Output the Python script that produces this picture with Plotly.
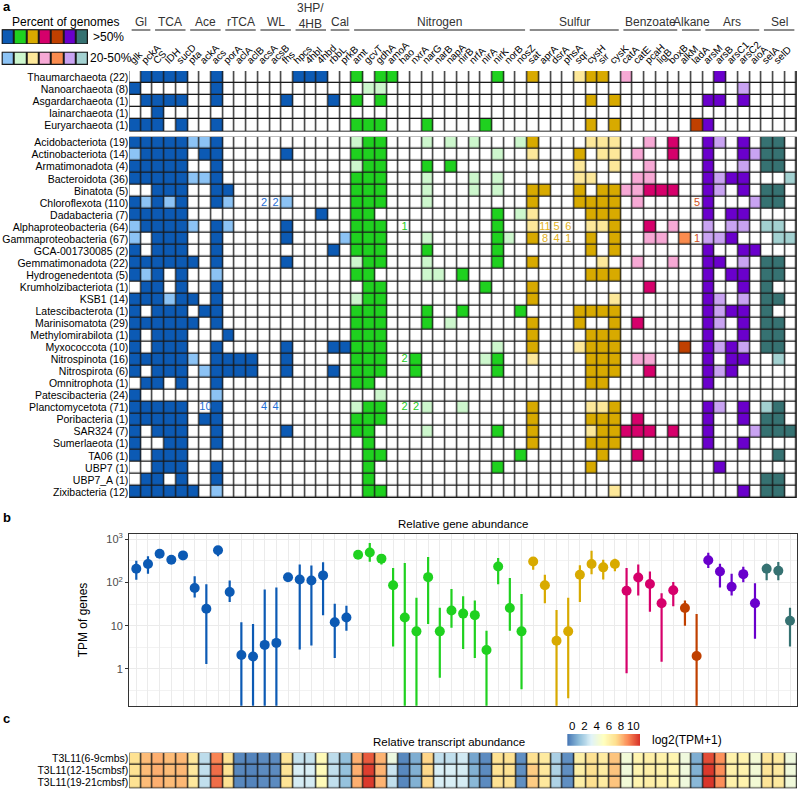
import numpy as np
import plotly.graph_objects as go

W, H = 800, 790
FONT = "Liberation Sans, Arial, sans-serif"

# ---- panel a: gene presence per phylum -------------------------------------
GROUPS = ["Gl", "TCA", "Ace", "rTCA", "WL", "3HP/<br>4HB", "Cal",
          "Nitrogen", "Sulfur", "Benzoate", "Alkane", "Ars", "Sel"]
GROUP_SIZES = [2, 3, 3, 3, 3, 3, 2, 15, 8, 5, 2, 5, 3]
GROUP_FAMILY = [0, 0, 0, 0, 0, 0, 0, 1, 2, 3, 4, 5, 6]

GENES = ["glk", "pckA", "CS", "IDH", "sucD", "pta", "ackA", "acs", "porA", "aclA",
         "aclB", "acsA", "acsB", "fhs", "hpcs", "4hbl", "4hbd", "rbbL", "prkB",
         "amt", "gcvT", "gdhA", "amoA", "hao", "nxrA", "narG", "narB", "napA", "nirB",
         "nrfA", "nirA", "nirK", "norB", "nosZ",
         "sat", "aprA", "dsrA", "phsA", "sqr", "cysH", "sir", "cysK",
         "catA", "catE", "pcaH", "ligB", "boxB", "alkM", "ladA",
         "arsM", "arsB", "arsC1", "arsC2", "aioA", "selA", "selD", "selU"]

DARK = ["#0c5ab4", "#1fd11f", "#d8aa00", "#d6006b", "#c04000", "#6a00cc", "#367272"]
LIGHT = ["#8cc3f5", "#cdf7cd", "#fde89a", "#f7a9d5", "#fa8c4f", "#c9a3f2", "#a3d1d1"]

# 0 = <20 %, 1 = 20-50 %, 2 = >50 % of genomes
ARCHAEA = ["Thaumarchaeota (22)", "Nanoarchaeota (8)", "Asgardarchaeota (1)",
           "Iainarchaeota (1)", "Euryarchaeota (1)"]
ARCHAEA_PATTERN = [
    "02 222 002 000 000 222 00|202200000000200|20001220|10000|00|02000|000",
    "20 000 002 000 000 000 00|011000000000000|00000000|00000|00|00010|000",
    "02 222 002 000 002 000 20|202000000000000|00000202|00000|00|22020|000",
    "00 200 000 000 000 000 00|000000000000000|00000000|00000|00|00000|000",
    "22 202 002 000 000 000 00|222000200002000|00000202|00000|02|20000|000",
]
BACTERIA = ["Acidobacteriota (19)", "Actinobacteriota (14)", "Armatimonadota (4)",
            "Bacteroidota (36)", "Binatota (5)", "Chloroflexota (110)", "Dadabacteria (7)",
            "Alphaproteobacteria (64)", "Gammaproteobacteria (67)", "GCA-001730085 (2)",
            "Gemmatimonadota (22)", "Hydrogenedentota (5)", "Krumholzibacteriota (1)",
            "KSB1 (14)", "Latescibacterota (1)", "Marinisomatota (29)",
            "Methylomirabilota (1)", "Myxococcota (10)", "Nitrospinota (16)",
            "Nitrospirota (6)", "Omnitrophota (1)", "Patescibacteria (24)",
            "Planctomycetota (71)", "Poribacteria (1)", "SAR324 (7)", "Sumerlaeota (1)",
            "TA06 (1)", "UBP7 (1)", "UBP7_A (1)", "Zixibacteria (12)"]
BACTERIA_PATTERN = [
    "22 222 112 000 000 000 00|122000101010001|20000111|00102|00|21020|220",
    "12 222 022 000 002 000 00|222000000000100|10002011|01002|00|20021|220",
    "22 222 002 000 000 000 00|122000202000000|00001001|00100|00|20010|220",
    "22 222 112 000 000 000 00|222000100010100|00001100|01100|00|21220|001",
    "00 222 002 200 000 000 00|222000100010100|22002022|11222|00|21020|220",
    "21 212 002 100 001 000 00|222000100000000|20002222|01000|00|20001|220",
    "22 222 000 000 000 002 00|220000000000201|10000222|00000|00|20220|000",
    "12 222 102 100 002 000 00|222000000000200|10000112|00201|00|10110|110",
    "10 222 002 000 002 000 01|222000100000210|20000202|00110|10|11200|011",
    "20 222 002 000 000 000 20|222000200000200|00000202|00000|00|20022|000",
    "22 222 202 000 002 000 00|122000100000200|20000010|01001|00|22010|220",
    "21 202 001 000 000 000 00|220000110200000|00000222|00000|00|20220|220",
    "02 202 002 000 000 000 00|022000000002000|20000000|00200|00|20020|200",
    "22 212 202 000 000 000 00|122000000000000|20000001|00000|00|21010|220",
    "20 222 022 000 000 000 00|222000200200002|00002222|00000|00|21220|200",
    "22 222 202 000 000 000 00|222000201000000|20002002|02000|00|21020|220",
    "20 222 000 200 000 000 00|222000000000000|20000222|00000|00|20020|220",
    "20 222 002 000 002 000 22|222000000000100|20001222|00000|20|21210|220",
    "22 222 102 222 002 000 00|222002000001200|10000222|01100|00|20220|010",
    "20 222 012 222 002 000 20|222002000000200|00000222|00200|00|21200|000",
    "02 202 002 000 000 000 00|220000000000000|00000220|00000|00|20000|000",
    "20 000 001 000 000 000 00|001000000000000|00000000|00000|00|00000|000",
    "22 222 002 000 000 000 00|122000100100000|20000112|00000|00|21020|120",
    "22 222 022 000 000 000 00|222000000000000|20000222|02000|00|20020|220",
    "20 222 002 000 002 000 00|220000100000200|20000122|22202|00|20001|222",
    "20 022 002 000 000 000 00|020000000000000|20000222|00000|00|20020|000",
    "20 222 000 000 000 000 00|022000000000002|00000020|02000|00|00000|020",
    "00 222 002 000 000 000 00|020000000000200|00000200|00000|00|02000|000",
    "02 202 002 000 000 000 00|020000000000000|00000000|00000|00|00000|220",
    "22 222 201 000 000 000 00|022000000000000|00000001|00000|00|00020|220",
]
# genome counts written in cells
CELL_NUMBERS = [
    ("Chloroflexota (110)", "acsA", "2"), ("Chloroflexota (110)", "acsB", "2"),
    ("Chloroflexota (110)", "ladA", "5"),
    ("Alphaproteobacteria (64)", "hao", "1"), ("Alphaproteobacteria (64)", "aprA", "11"),
    ("Alphaproteobacteria (64)", "dsrA", "5"), ("Alphaproteobacteria (64)", "phsA", "6"),
    ("Gammaproteobacteria (67)", "aprA", "8"), ("Gammaproteobacteria (67)", "dsrA", "4"),
    ("Gammaproteobacteria (67)", "phsA", "1"), ("Gammaproteobacteria (67)", "ladA", "1"),
    ("Nitrospinota (16)", "hao", "2"),
    ("Planctomycetota (71)", "ackA", "10"), ("Planctomycetota (71)", "acsA", "4"),
    ("Planctomycetota (71)", "acsB", "4"), ("Planctomycetota (71)", "hao", "2"),
    ("Planctomycetota (71)", "nxrA", "2"),
]

# ---- panel b: relative gene abundance (TPM) ---------------------------------
TPM_MID = [207, 265, 458, 334, 420, 74, 24.6, 550, 60, 2.1, 1.95, 3.6, 4.0, 131, 116, 110, 145, 12, 15.5,
           435, 490, 353, 86, 15.5, 7.4, 132, 7.4, 22.4, 19, 17.5, 2.75, 233, 25.5, 7.4,
           303, 86, 4.5, 7.4, 150, 265, 222, 265,
           64, 130, 92, 33, 66,
           25.5, 2.0,
           325, 178, 79, 155, 33,
           207, 186, 13]
TPM_LOW = [115, 158, 400, 280, 370, 45, 1.3, 400, 35, 0.1, 0.1, 0.1, 0.1, 115, 2.8, 3.5, 17.5, 1.8, 7.6,
           390, 300, 260, 3.3, 0.1, 0.1, 11, 0.63, 9, 2.9, 1.8, 0.1, 91, 7.6, 0.34,
           196, 33, 0.1, 0.21, 35, 155, 116, 180,
           0.8, 50, 21, 1.47, 28,
           10, 0.1,
           215, 76, 50, 100, 5,
           112, 112, 3.3]
TPM_HIGH = [316, 400, 520, 400, 480, 138, 91, 680, 110, 12, 11, 68, 76, 150, 257, 245, 290, 32, 29,
            480, 810, 420, 215, 280, 44, 383, 26, 70, 48, 38, 7.6, 365, 126, 54,
            380, 150, 23, 44, 247, 540, 333, 350,
            215, 257, 178, 56, 102,
            38, 18.6,
            480, 270, 158, 230, 96,
            270, 294, 26]

# ---- panel c: relative transcript abundance log2(TPM+1) ---------------------
SAMPLES = ["T3L11(6-9cmbs)", "T3L11(12-15cmbsf)", "T3L11(19-21cmbsf)"]
TX_6_9 = [7.0, 8.0, 8.3, 8.0, 8.1, 6.7, 2.3, 9.3, 7.0, -0.3, -0.4, -0.2, -0.2, 6.9, 2.5, 2.5, 5.5, 2.3, 1.2,
          8.3, 10.2, 8.2, 4.0, -0.3, 0.7, 7.4, 2.4, 2.4, 2.8, 0.5, -0.2, 7.0, 7.0, -0.1,
          7.1, 6.5, 1.8, -0.1, 6.2, 7.0, 6.4, 7.8,
          4.3, 5.8, 6.1, 6.0, 5.8, 4.1, 0.7,
          10.5, 9.0, 6.0, 5.9, 4.4, 6.8, 6.5, 4.1]
TX_12_15 = [7.0, 8.0, 8.3, 8.0, 8.1, 6.6, 2.4, 9.8, 7.0, -0.3, -0.4, -0.2, -0.2, 6.9, 3.0, 3.0, 5.4, 2.4, 1.3,
            8.3, 10.8, 8.2, 2.6, -0.3, 0.8, 7.3, 3.0, 3.0, 2.9, 0.8, -0.2, 7.0, 7.0, -0.1,
            7.6, 6.6, 1.9, -0.1, 6.2, 7.1, 6.4, 7.8,
            4.2, 5.8, 6.1, 6.0, 5.8, 4.1, 0.8,
            10.9, 9.1, 6.0, 5.9, 4.4, 6.8, 6.5, 4.2]
TX_19_21 = [7.0, 8.0, 8.3, 8.0, 8.1, 6.6, 2.4, 9.8, 7.0, -0.3, -0.4, -0.2, -0.2, 6.9, 2.9, 2.9, 5.4, 2.4, 1.3,
            8.3, 10.9, 8.2, 2.4, -0.3, 0.8, 7.3, 3.0, 3.0, 2.9, 1.0, -0.2, 7.0, 7.0, -0.1,
            7.6, 6.6, 1.9, -0.1, 6.2, 7.1, 6.4, 7.8,
            4.3, 5.8, 6.1, 6.0, 5.8, 4.1, 1.0,
            11.0, 9.1, 6.0, 5.9, 4.4, 6.8, 6.5, 4.2]
TX_MIN, TX_MAX = -0.8, 11.1
PHEATMAP = ["#4575b4", "#91bfdb", "#e0f3f8", "#ffffbf", "#fee090", "#fc8d59", "#d73027"]


def px_x(x):
    return x / W


def px_y(y):
    return 1 - y / H


def parse(pattern):
    vals = [int(c) for c in pattern if c in "012"]
    assert len(vals) == len(GENES), (pattern, len(vals))
    return vals


col_family = []
for size, fam in zip(GROUP_SIZES, GROUP_FAMILY):
    col_family += [fam] * size
n_col = len(GENES)


def to_codes(patterns):
    rows = []
    for p in patterns:
        levels = parse(p)
        rows.append([0 if lv == 0 else 2 * col_family[j] + lv for j, lv in enumerate(levels)])
    return rows


code_colors = ["#ffffff"]
for d, l in zip(DARK, LIGHT):
    code_colors += [l, d]
n_codes = len(code_colors)
discrete_scale = []
for k, c in enumerate(code_colors):
    discrete_scale += [[k / n_codes, c], [(k + 1) / n_codes, c]]

fig = go.Figure()


def presence_heatmap(z, yaxis, xaxis="x", gap=1.3):
    fig.add_trace(go.Heatmap(
        z=z, x=list(range(len(z[0]))), y=list(range(len(z))),
        colorscale=discrete_scale, zmin=-0.5, zmax=n_codes - 0.5, showscale=False,
        xgap=gap, ygap=gap, hoverinfo="skip", xaxis=xaxis, yaxis=yaxis,
    ))


presence_heatmap(to_codes(ARCHAEA_PATTERN), "y")
presence_heatmap(to_codes(BACTERIA_PATTERN), "y2")

# numbers inside cells, grouped by colour family
NUMBER_COLORS = ["#1f6fd6", "#22cc22", "#e3b21e", "#d6006b", "#d2501a", "#6a00cc", "#367272"]
for fam in range(len(DARK)):
    pts = [(GENES.index(g), BACTERIA.index(r), t) for r, g, t in CELL_NUMBERS
           if col_family[GENES.index(g)] == fam]
    if not pts:
        continue
    fig.add_trace(go.Scatter(
        x=[p[0] for p in pts], y=[p[1] for p in pts], text=[p[2] for p in pts],
        mode="text", textfont=dict(family=FONT, size=11, color=NUMBER_COLORS[fam]),
        hoverinfo="skip", showlegend=False, xaxis="x", yaxis="y2",
    ))

# legend swatches
presence_heatmap([[2 * f + 2 for f in range(len(DARK))]], "y3", "x3", gap=2)
presence_heatmap([[2 * f + 1 for f in range(len(DARK))]], "y4", "x4", gap=2)

# panel b
fam_idx = np.array(col_family)
mid, low, high = np.array(TPM_MID), np.array(TPM_LOW), np.array(TPM_HIGH)
for fam in range(len(DARK)):
    idx = np.where(fam_idx == fam)[0]
    fig.add_trace(go.Scatter(
        x=idx, y=mid[idx], mode="markers",
        marker=dict(size=10, color=DARK[fam]),
        error_y=dict(type="data", symmetric=False, array=high[idx] - mid[idx],
                     arrayminus=mid[idx] - low[idx], width=0, thickness=2.2, color=DARK[fam]),
        showlegend=False, hoverinfo="skip", xaxis="x5", yaxis="y5",
    ))

# panel c
pheat_scale = [[i / (len(PHEATMAP) - 1), c] for i, c in enumerate(PHEATMAP)]
fig.add_trace(go.Heatmap(
    z=[TX_6_9, TX_12_15, TX_19_21], x=list(range(n_col)), y=list(range(3)),
    coloraxis="coloraxis", xgap=1.3, ygap=1.3, hoverinfo="skip", xaxis="x6", yaxis="y6",
))
grad = np.linspace(TX_MIN, TX_MAX, 150)
fig.add_trace(go.Heatmap(
    z=[grad], x=grad, y=[0], coloraxis="coloraxis", hoverinfo="skip", xaxis="x7", yaxis="y7",
))

hidden = dict(visible=False, showgrid=False, zeroline=False)
row_font = dict(family=FONT, size=10.5, color="#000000")
a_x = [px_x(129.3), px_x(796.7)]
b_x = [px_x(129.3), px_x(797)]

fig.update_layout(
    width=W, height=H, margin=dict(l=0, r=0, t=0, b=0, autoexpand=False),
    paper_bgcolor="white", plot_bgcolor="white", font=dict(family=FONT, color="#000000"),
    showlegend=False,
    coloraxis=dict(colorscale=pheat_scale, cmin=TX_MIN, cmax=TX_MAX, showscale=False),
    # gene names sit slightly left of the column centre, as in the original
    xaxis=dict(domain=a_x, anchor="y", side="top", range=[-0.5, n_col - 0.5],
               tickmode="array", tickvals=[i - 0.42 for i in range(n_col)], ticktext=GENES,
               tickangle=-45, tickfont=dict(family=FONT, size=10, color="#000000"), ticks="",
               showgrid=False, zeroline=False, ticklabelstandoff=2),
    yaxis=dict(domain=[px_y(131.5), px_y(71)], anchor="x", range=[len(ARCHAEA) - 0.5, -0.5],
               tickmode="array", tickvals=list(range(len(ARCHAEA))), ticktext=ARCHAEA,
               tickfont=row_font, ticks="", showgrid=False, zeroline=False),
    yaxis2=dict(domain=[px_y(498), px_y(136.7)], anchor="x", range=[len(BACTERIA) - 0.5, -0.5],
                tickmode="array", tickvals=list(range(len(BACTERIA))), ticktext=BACTERIA,
                tickfont=row_font, ticks="", showgrid=False, zeroline=False),
    xaxis3=dict(domain=[px_x(1.7), px_x(88)], anchor="y3", range=[-0.5, 6.5], **hidden),
    yaxis3=dict(domain=[px_y(44), px_y(29.3)], anchor="x3", range=[-0.5, 0.5], **hidden),
    xaxis4=dict(domain=[px_x(1.7), px_x(88)], anchor="y4", range=[-0.5, 6.5], **hidden),
    yaxis4=dict(domain=[px_y(65), px_y(51.7)], anchor="x4", range=[-0.5, 0.5], **hidden),
    xaxis5=dict(domain=b_x, anchor="y5", range=[-0.6, n_col - 0.4], tickmode="array",
                tickvals=list(range(n_col)), showticklabels=False, ticks="",
                showgrid=True, gridcolor="#ebebeb", gridwidth=1.1, zeroline=False,
                showline=True, mirror=True, linecolor="#333333", linewidth=1.4),
    yaxis5=dict(domain=[px_y(705.7), px_y(534.3)], anchor="x5", type="log",
                range=[-0.848, 3.11], tickmode="array", tickvals=[1, 10, 100, 1000],
                ticktext=["1", "10", "10<sup>2</sup>", "10<sup>3</sup>"],
                tickfont=dict(family=FONT, size=11, color="#4d4d4d"),
                ticks="outside", ticklen=3, tickcolor="#333333",
                showgrid=True, gridcolor="#ebebeb", gridwidth=1.1, zeroline=False,
                minor=dict(tickvals=[10 ** -0.5, 10 ** 0.5, 10 ** 1.5, 10 ** 2.5],
                           showgrid=True, gridcolor="#f2f2f2", gridwidth=0.8, ticks=""),
                showline=True, mirror=True, linecolor="#333333", linewidth=1.4,
                title=dict(text="TPM of genes", font=dict(family=FONT, size=12, color="#000000"),
                           standoff=16)),
    xaxis6=dict(domain=b_x, anchor="y6", range=[-0.5, n_col - 0.5], **hidden),
    yaxis6=dict(domain=[px_y(788.3), px_y(752.7)], anchor="x6", range=[2.5, -0.5],
                tickmode="array", tickvals=[0, 1, 2], ticktext=SAMPLES, tickfont=row_font,
                ticks="", showgrid=False, zeroline=False),
    xaxis7=dict(domain=[px_x(567.3), px_x(640)], anchor="y7", side="top",
                range=[TX_MIN, TX_MAX], tickmode="array", tickvals=[0, 2, 4, 6, 8, 10],
                tickangle=0, tickfont=dict(family=FONT, size=11.5, color="#000000"), ticks="",
                showgrid=False, zeroline=False, ticklabelstandoff=1),
    yaxis7=dict(domain=[px_y(745.7), px_y(734)], anchor="x7", range=[-0.5, 0.5], **hidden),
)

# black grid behind the heatmaps (shows through the cell gaps)
shapes = []
for xr, yr, nx, ny in [("x", "y", n_col, len(ARCHAEA)), ("x", "y2", n_col, len(BACTERIA)),
                       ("x3", "y3", 7, 1), ("x4", "y4", 7, 1), ("x6", "y6", n_col, 3)]:
    shapes.append(dict(type="rect", xref=xr, yref=yr, x0=-0.5, x1=nx - 0.5, y0=-0.5, y1=ny - 0.5,
                       fillcolor="#1a1a1a", line=dict(color="#1a1a1a", width=1.6), layer="below"))

# group header rules
annotations = []
start = 0
for name, size in zip(GROUPS, GROUP_SIZES):
    end = start + size - 1
    shapes.append(dict(type="line", xref="x", yref="paper", x0=start - 0.5 + 0.2, x1=end + 0.5 - 0.2,
                       y0=px_y(30), y1=px_y(30), line=dict(color="#8c8c8c", width=2)))
    annotations.append(dict(text=name, xref="x", yref="paper", x=(start + end) / 2,
                            y=px_y(16 if "<br>" in name else 22), yanchor="middle",
                            showarrow=False, font=dict(family=FONT, size=12, color="#333333")))
    start = end + 1

texts = [
    ("<b>a</b>", 1, 6, "left", 13), ("<b>b</b>", 1, 517, "left", 13), ("<b>c</b>", 1, 718, "left", 13),
    ("Percent of genomes", 10, 22, "left", 12),
    (">50%", 91, 37, "left", 12), ("20-50%", 88, 58.5, "left", 12),
    ("Relative gene abundance", 463, 524, "center", 11.5),
    ("Relative transcript abundance", 449, 742, "center", 11.5),
    ("log2(TPM+1)", 650, 740, "left", 12),
]
for t, x, y, anchor, size in texts:
    annotations.append(dict(text=t, xref="paper", yref="paper", x=px_x(x), y=px_y(y),
                            xanchor=anchor, yanchor="middle", showarrow=False,
                            font=dict(family=FONT, size=size, color="#000000")))

fig.update_layout(shapes=shapes, annotations=annotations)
fig.write_html("out.html", config={"displayModeBar": False},
               post_script="document.body.style.margin='0px';")
